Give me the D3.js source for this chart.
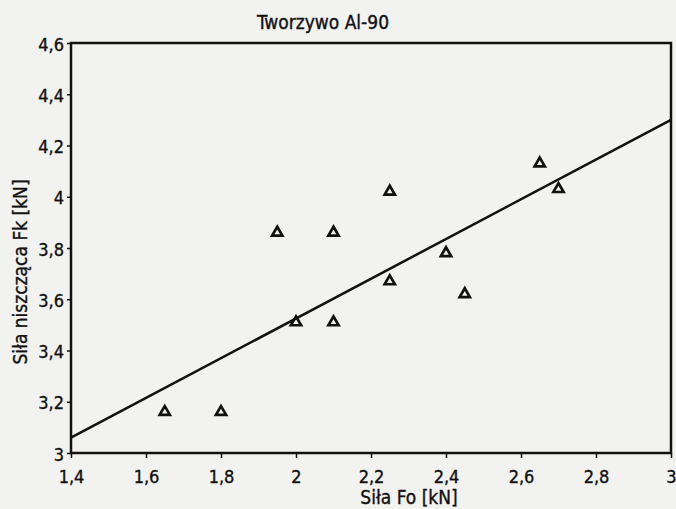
<!DOCTYPE html>
<html>
<head>
<meta charset="utf-8">
<script src="https://cdnjs.cloudflare.com/ajax/libs/d3/7.8.5/d3.min.js"></script>
<style>
  body { margin: 0; background: #f2f2f0; }
  text { font-family: "DejaVu Sans Condensed", "DejaVu Sans", sans-serif; fill: #111; stroke: #111; stroke-width: 0.35px; }
</style>
</head>
<body>
<div id="chart"></div>
<script>
// measured points (Fo, Fk)
var foValues = [1.65, 1.8, 1.95, 2.0, 2.1, 2.1, 2.25, 2.25, 2.4, 2.45, 2.65, 2.7];
var fkValues = [3.16, 3.16, 3.86, 3.51, 3.86, 3.51, 4.02, 3.67, 3.78, 3.62, 4.13, 4.03];
// regression line end points
var lineFo = [1.4, 3.0];
var lineFk = [3.06, 4.30];
var xTicks = [1.4, 1.6, 1.8, 2.0, 2.2, 2.4, 2.6, 2.8, 3.0];
var yTicks = [3.0, 3.2, 3.4, 3.6, 3.8, 4.0, 4.2, 4.4, 4.6];

var W = 676, H = 509;
var margin = {top: 43, right: 5, bottom: 56, left: 71};
var width = W - margin.left - margin.right,
    height = H - margin.top - margin.bottom;

var fmt = function(d){ return d3.format("~g")(d).replace(".", ","); };

var svg = d3.select("#chart").append("svg")
  .attr("width", W)
  .attr("height", H);

var g = svg.append("g")
  .attr("transform", "translate(" + margin.left + "," + margin.top + ")");

var xScale = d3.scaleLinear().domain([1.4, 3.0]).range([0, width]);
var yScale = d3.scaleLinear().domain([3.0, 4.6]).range([height, 0]);

// axes
var xAxis = g.append("g")
  .attr("transform", "translate(0," + height + ")")
  .call(d3.axisBottom(xScale).tickValues(xTicks).tickFormat(fmt).tickSize(5).tickPadding(12));
var yAxis = g.append("g")
  .call(d3.axisLeft(yScale).tickValues(yTicks).tickFormat(fmt).tickSize(4).tickPadding(3));

[xAxis, yAxis].forEach(function(a){
  a.select(".domain").remove();
  a.selectAll("line").attr("stroke", "#111").attr("stroke-width", 1.5);
  a.selectAll("text").style("font-size", "18px").attr("fill", "#111");
});
yAxis.selectAll("text").attr("dy", "0.4em");

// frame
g.append("rect")
  .attr("width", width)
  .attr("height", height)
  .attr("fill", "none")
  .attr("stroke", "#111")
  .attr("stroke-width", 2.5);

// regression line
var line = d3.line()
  .x(function(d){ return xScale(d[0]); })
  .y(function(d){ return yScale(d[1]); });

g.append("path")
  .attr("d", line(d3.zip(lineFo, lineFk)))
  .attr("fill", "none")
  .attr("stroke", "#111")
  .attr("stroke-width", 2.5);

// points as open triangles
var tri = d3.symbol().type(d3.symbolTriangle).size(45);
g.selectAll(".pt")
  .data(d3.zip(foValues, fkValues))
  .enter().append("path")
  .attr("class", "pt")
  .attr("d", tri)
  .attr("transform", function(d){ return "translate(" + xScale(d[0]) + "," + yScale(d[1]) + ")"; })
  .attr("fill", "none")
  .attr("stroke", "#111")
  .attr("stroke-width", 2.7);

// titles
svg.append("text")
  .attr("x", 323).attr("y", 29)
  .attr("text-anchor", "middle")
  .style("font-size", "19px")
  .text("Tworzywo Al-90");

svg.append("text")
  .attr("x", 409).attr("y", 504)
  .attr("text-anchor", "middle")
  .style("font-size", "19px")
  .text("Siła Fo [kN]");

svg.append("text")
  .attr("transform", "translate(27," + 272 + ") rotate(-90)")
  .attr("text-anchor", "middle")
  .style("font-size", "19px")
  .text("Siła niszcząca Fk [kN]");
</script>
</body>
</html>
